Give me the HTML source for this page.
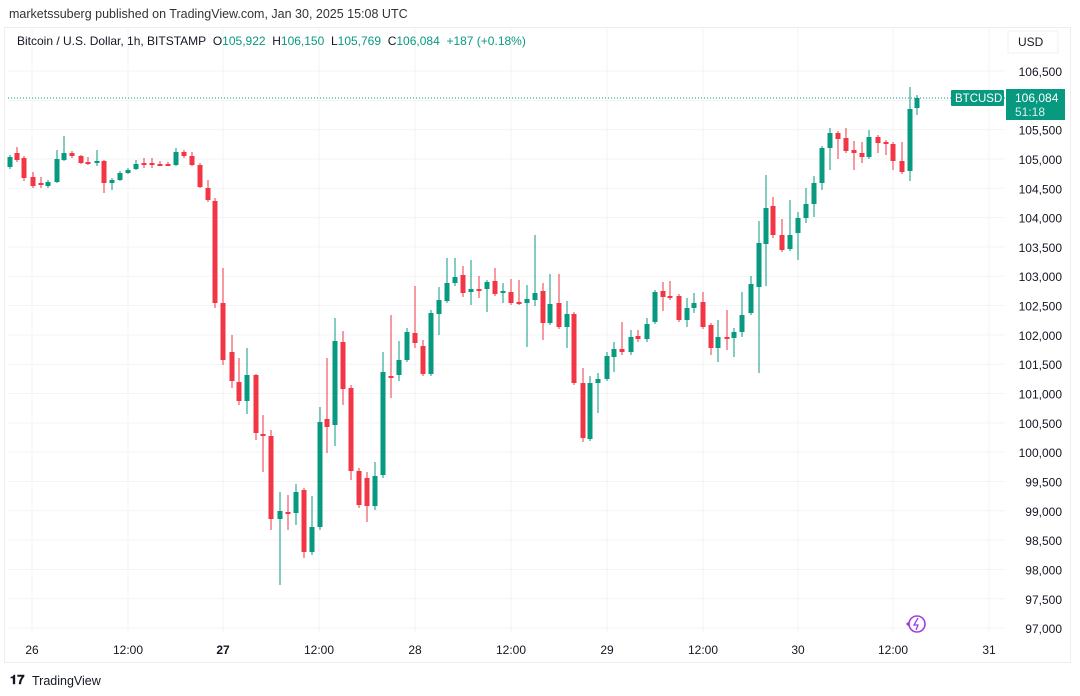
<!DOCTYPE html>
<html><head><meta charset="utf-8"><style>
html,body{margin:0;padding:0;background:#fff;width:1080px;height:696px;overflow:hidden;font-family:"Liberation Sans",sans-serif}
.t{position:absolute;white-space:nowrap}
</style></head><body>
<div class="t" style="left:9px;top:7px;font-size:12.5px;color:#333">marketssuberg published on TradingView.com, Jan 30, 2025 15:08 UTC</div>
<svg id="s" width="1080" height="696" style="position:absolute;left:0;top:0" xmlns="http://www.w3.org/2000/svg" font-family="Liberation Sans, sans-serif">
<rect x="4.5" y="27.5" width="1066" height="635" fill="none" stroke="#eeeeee"/>
<g id="grid"></g>
<g id="c"></g>
<line x1="8" y1="98" x2="1005" y2="98" stroke="#089981" stroke-width="1" stroke-dasharray="1,2"/>
<rect x="1008" y="31" width="50" height="22" fill="#fff" stroke="#f0f0f0"/>
<text x="1018" y="46" font-size="12" fill="#131722">USD</text>
<rect x="951" y="90" width="53" height="16" rx="1" fill="#089981"/>
<text x="955" y="102" font-size="11.5" fill="#fff">BTCUSD</text>
<rect x="1006" y="89" width="59" height="31" fill="#089981"/>
<text x="1015" y="102" font-size="12" fill="#fff">106,084</text>
<text x="1015" y="116" font-size="12" fill="#d8f0ea">51:18</text>
<g id="ax" font-size="12" fill="#131722"></g>
<circle cx="917" cy="624" r="8" fill="none" stroke="#9c3fe0" stroke-width="1.6"/>
<path d="M918 618 L914 625 L918 625 L916 630" fill="none" stroke="#9c3fe0" stroke-width="1.3"/>
<path d="M906 624 l2 -2 l2 2 l-2 2z" fill="#9c3fe0"/>
<text x="10" y="684" font-size="13" font-weight="bold" fill="#131722">𝟏𝟕</text>
<text x="32" y="685" font-size="12.5" fill="#131722">TradingView</text>
</svg>
<div class="t" style="left:17px;top:34px;font-size:12px;color:#131722">Bitcoin / U.S. Dollar, 1h, BITSTAMP&nbsp;&nbsp;O<span style="color:#089981">105,922</span>&nbsp;&nbsp;H<span style="color:#089981">106,150</span>&nbsp;&nbsp;L<span style="color:#089981">105,769</span>&nbsp;&nbsp;C<span style="color:#089981">106,084</span>&nbsp;&nbsp;<span style="color:#089981">+187 (+0.18%)</span></div>
<script>
var NS="http://www.w3.org/2000/svg";
function el(p,t,a,txt){var e=document.createElementNS(NS,t);for(var k in a)e.setAttribute(k,a[k]);if(txt)e.textContent=txt;p.appendChild(e);return e;}
var g=document.getElementById("grid"),ax=document.getElementById("ax"),c=document.getElementById("c");
var prices=["106,500","106,000","105,500","105,000","104,500","104,000","103,500","103,000","102,500","102,000","101,500","101,000","100,500","100,000","99,500","99,000","98,500","98,000","97,500","97,000"];
for(var i=0;i<prices.length;i++){var y=72+i*29.32;el(g,"line",{x1:8,x2:1005,y1:y-1,y2:y-1,stroke:"#f3f3f5"});
 if(i!=1)el(ax,"text",{x:1062,y:y+4,"text-anchor":"end"},prices[i]);}
var xl=[["26",32],["12:00",128],["27",223],["12:00",319],["28",415],["12:00",511],["29",607],["12:00",703],["30",798],["12:00",893],["31",989]];
xl.forEach(function(d,i){el(g,"line",{x1:d[1],x2:d[1],y1:28,y2:632,stroke:"#f3f3f5"});
 var t=el(ax,"text",{x:d[1],y:654,"text-anchor":"middle"},d[0]);if(d[0]=="27")t.setAttribute("font-weight","bold");});
var D=[[10,167,157,155,169],[17,153,160,147,162],[24,158,178,156,181],[33,177,186,172,188],[41,183,183,177,188],[48,186,182,180,188],[57,182,159,150,183],[64,160,153,136,161],[72,153,156,151,158],[81,156,163,155,164],[88,162,162,157,165],[97,163,161,150,166],[104,161,183,160,193],[112,183,180,178,190],[120,180,173,171,181],[128,173,170,168,174],[136,169,164,160,170],[144,163,163,158,168],[152,163,163,158,168],[160,164,164,161,165],[168,164,164,162,165],[176,165,152,148,166],[184,152,156,150,158],[192,156,165,152,166],[200,165,187,163,188],[208,188,200,180,202],[215,201,303,198,308],[223,303,360,268,365],[232,352,381,335,388],[239,382,401,358,405],[247,401,375,348,414],[256,375,433,374,440],[263,434,434,415,472],[271,436,519,430,530],[280,519,511,492,585],[288,512,512,495,530],[296,513,492,484,525],[304,490,552,488,558],[312,552,527,496,555],[320,527,422,407,530],[327,419,427,358,453],[335,425,341,318,446],[343,342,389,331,405],[351,388,471,385,480],[359,471,505,468,508],[367,478,506,472,522],[375,506,476,462,510],[383,475,372,352,478],[391,376,376,315,398],[399,375,360,341,381],[407,360,332,328,362],[415,333,343,286,348],[423,346,374,340,376],[431,374,313,310,376],[439,314,300,287,335],[447,301,283,258,303],[455,283,277,258,286],[463,275,293,266,297],[471,292,289,260,305],[479,289,289,276,298],[487,289,282,280,312],[495,281,294,268,296],[503,293,291,283,303],[511,292,303,279,305],[519,302,302,280,305],[527,303,299,285,347],[535,300,293,235,306],[543,291,323,283,340],[550,323,304,274,325],[559,303,327,274,329],[567,327,314,301,348],[574,314,383,312,385],[583,383,438,368,442],[590,439,383,376,441],[598,383,379,373,413],[607,379,356,352,381],[614,357,349,342,372],[622,349,352,322,355],[631,352,337,330,355],[638,336,339,330,342],[647,339,324,318,342],[655,322,292,290,324],[663,291,297,282,311],[670,296,296,281,300],[679,296,320,294,322],[687,320,308,298,327],[694,308,303,293,313],[703,302,327,292,329],[711,325,348,323,355],[718,348,337,320,362],[727,337,338,310,350],[734,338,332,328,357],[742,332,315,292,337],[751,313,284,276,315],[759,287,243,221,373],[766,244,208,175,286],[773,206,235,197,238],[782,235,250,219,252],[790,249,235,200,251],[798,233,218,212,260],[806,218,204,188,223],[814,204,183,176,217],[822,183,148,146,190],[830,148,133,128,170],[838,133,139,131,159],[846,138,151,128,153],[854,150,153,141,170],[862,153,157,142,163],[869,157,137,130,159],[878,137,143,135,153],[886,142,144,140,155],[893,144,161,142,170],[902,161,172,142,174],[910,171,109,87,181],[917,108,98,95,115]];
D.forEach(function(d){var up=d[2]<d[1]||(d[2]==d[1]&&false);var col=up?"#089981":"#f23645";
 el(c,"line",{x1:d[0],x2:d[0],y1:d[3],y2:d[4],stroke:col,"stroke-width":1});
 var t=Math.min(d[1],d[2]),h=Math.max(Math.abs(d[2]-d[1]),2);
 el(c,"rect",{x:d[0]-2.5,y:t,width:5,height:h,fill:col});});
</script>
</body></html>
